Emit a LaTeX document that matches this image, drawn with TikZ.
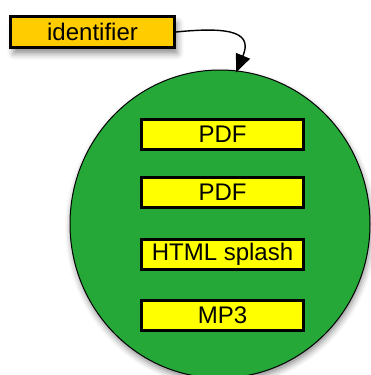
\documentclass[tikz,border=0pt]{standalone}
\usepackage{fontspec}
\setmainfont{Liberation Sans}
\usetikzlibrary{arrows.meta,shadows.blur,shapes.geometric}
\definecolor{poolgreen}{RGB}{38,168,56}
\definecolor{idgold}{RGB}{255,204,0}
\definecolor{itemyellow}{RGB}{255,255,0}
\tikzset{
  x=1pt, y=-1pt,
  idbox/.style={draw=black, line width=3pt, fill=idgold, minimum width=164pt,
    minimum height=31pt, inner sep=0pt, font=\fontsize{24}{28}\selectfont,
    blur shadow={shadow xshift=3pt, shadow yshift=-6pt, shadow blur radius=6pt, shadow opacity=45}},
  itembox/.style={draw=black, line width=3pt, fill=itemyellow, minimum width=162pt,
    minimum height=30pt, inner sep=0pt, font=\fontsize{24}{28}\selectfont},
  pool/.style={draw=black, line width=1pt, fill=poolgreen, shape=ellipse, inner sep=0pt,
    minimum width=300pt, minimum height=308pt,
    blur shadow={shadow xshift=1pt, shadow yshift=-4pt, shadow blur radius=6pt, shadow opacity=45}},
  link/.style={draw=black, line width=1.4pt, -{Triangle[length=18pt,width=15pt]}}
}
\begin{document}
\begin{tikzpicture}
\useasboundingbox (0,0) rectangle (371,375);

% container of the items
\node[pool] (pool) at (220,224) {};

% identifier and its link into the container
\node[idbox] (id) at (92.5,32) {identifier};
\draw[link] (id.east) .. controls (235,26) and (252,34) .. ([yshift=-2pt]pool.84);

% items held in the container
\node[itembox] (pdfa) at (222.5,134.5) {PDF};
\node[itembox] (pdfb) at (222.5,192) {PDF};
\node[itembox] (html) at (222.5,254.5) {HTML splash};
\node[itembox] (mp3) at (222.5,315) {MP3};
\end{tikzpicture}
\end{document}
